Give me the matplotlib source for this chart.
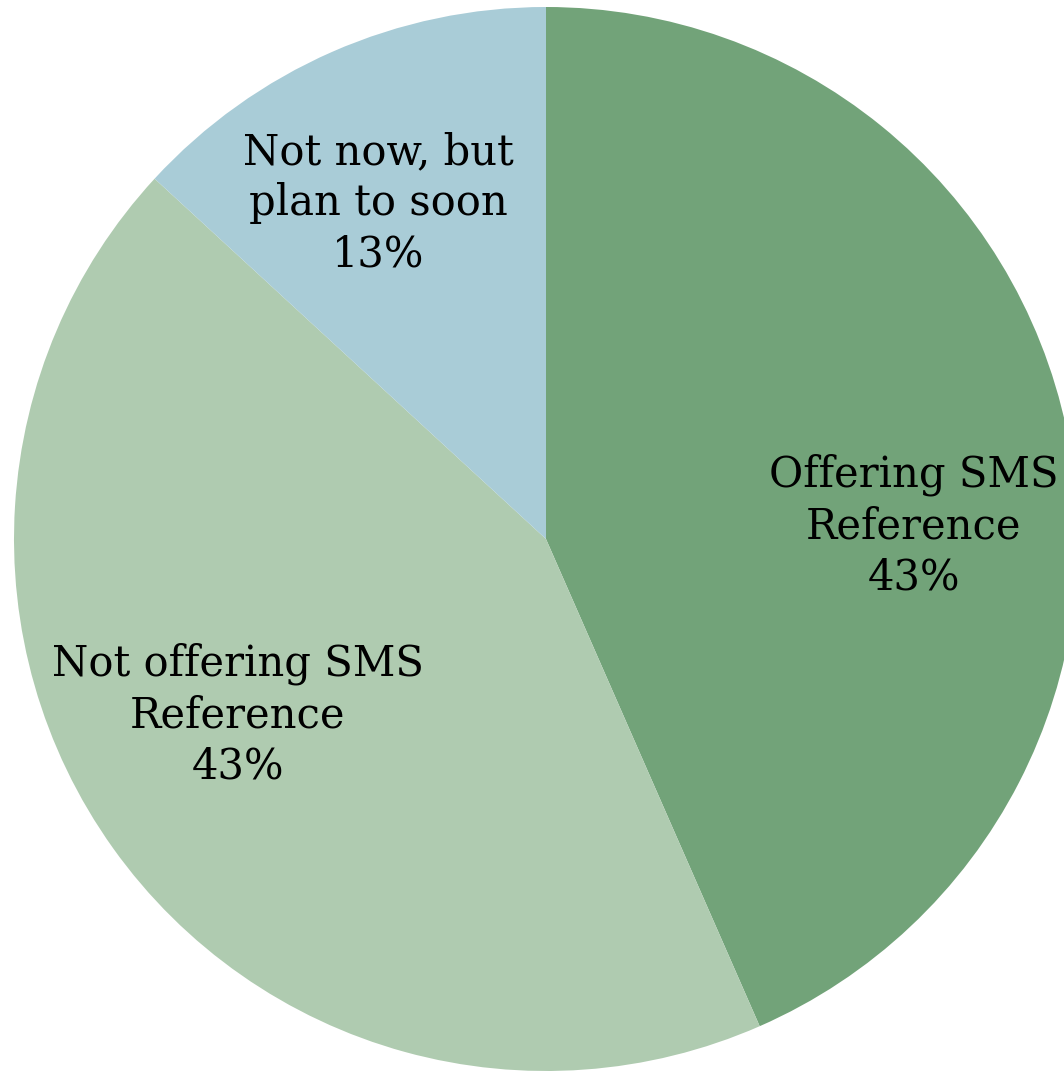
import matplotlib
matplotlib.use("Agg")
import matplotlib.pyplot as plt

categories = ["Offering SMS\nReference", "Not offering SMS\nReference", "Not now, but\nplan to soon"]
counts = [33, 33, 10]
colors = ["#72A379", "#AFCBB0", "#A9CCD7"]
# label centres in data units (pie radius = 1)
label_pos = [(0.691, 0.024), (-0.579, -0.331), (-0.315, 0.631)]

plt.rcParams["font.family"] = ["DejaVu Serif"]

W, H = 1064, 1071
fig = plt.figure(figsize=(W / 100, H / 100), dpi=100)
cx, cy, r = 546, 539, 532
ax = fig.add_axes([(cx - r) / W, (H - cy - r) / H, 2 * r / W, 2 * r / H])
ax.pie(counts, colors=colors, startangle=90, counterclock=False, radius=1,
       wedgeprops={"linewidth": 0})
ax.set_xlim(-1, 1)
ax.set_ylim(-1, 1)
ax.set_aspect("auto")
ax.axis("off")

total = sum(counts)
for name, value, (x, y) in zip(categories, counts, label_pos):
    pct = round(100 * value / total)
    ax.text(x, y, f"{name}\n{pct}%", ha="center", va="center",
            fontsize=30, linespacing=1.28, color="black")

fig.savefig("out.png", dpi=100)
